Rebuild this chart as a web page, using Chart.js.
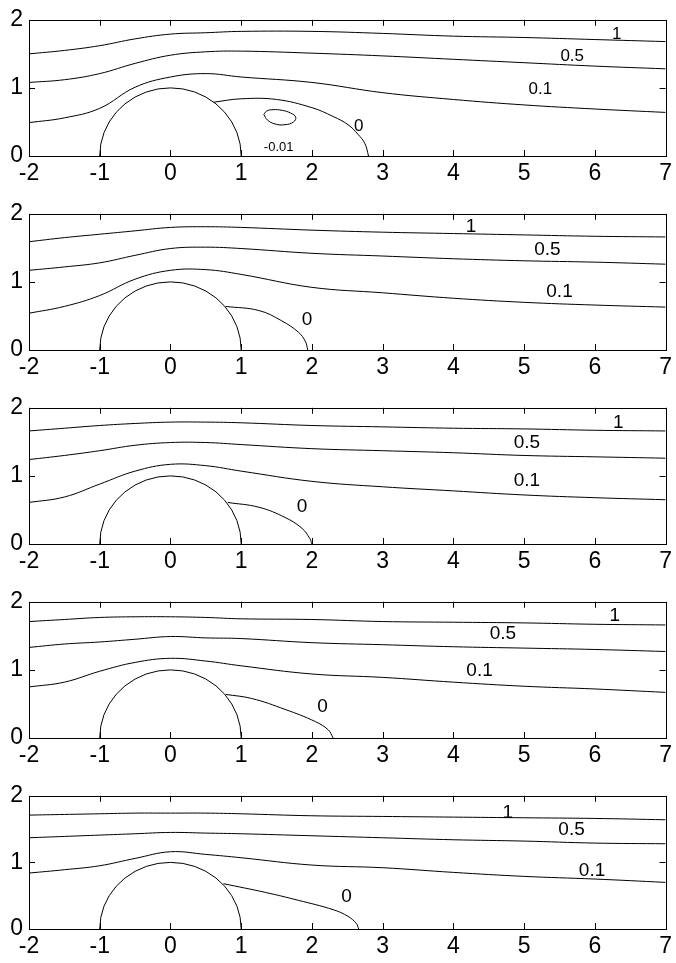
<!DOCTYPE html>
<html><head><meta charset="utf-8">
<script src="https://cdn.jsdelivr.net/npm/chart.js@4"></script>
<style>
html,body{margin:0;padding:0;background:#fff;width:676px;height:963px;overflow:hidden}
.p{position:absolute;left:0;width:676px;height:190px}
</style></head><body>
<div class="p" style="top:0px"><canvas id="c0" width="676" height="190"></canvas></div>
<div class="p" style="top:194px"><canvas id="c1" width="676" height="190"></canvas></div>
<div class="p" style="top:388px"><canvas id="c2" width="676" height="190"></canvas></div>
<div class="p" style="top:582px"><canvas id="c3" width="676" height="190"></canvas></div>
<div class="p" style="top:776px"><canvas id="c4" width="676" height="187"></canvas></div>
<script>
// ---- data ----
const xTicks = [-2,-1,0,1,2,3,4,5,6,7];
const yTicks = [0,1,2];
const streamX = [-2,-1.5,-1,-0.5,0,0.5,1,2,3,4,5,6,7];

const circleX = [-1,-0.985,-0.940,-0.866,-0.766,-0.643,-0.5,-0.342,-0.174,0,0.174,0.342,0.5,0.643,0.766,0.866,0.940,0.985,1];
const circleY = [0,0.174,0.342,0.5,0.643,0.766,0.866,0.940,0.985,1,0.985,0.940,0.866,0.766,0.643,0.5,0.342,0.174,0];

// panel 1
const p1Level1  = [1.50,1.55,1.62,1.72,1.79,1.81,1.83,1.83,1.80,1.76,1.74,1.71,1.68];
const p1Level05 = [1.08,1.12,1.21,1.36,1.48,1.53,1.54,1.51,1.47,1.42,1.37,1.32,1.28];
const p1Level01 = [0.49,0.56,0.70,1.01,1.16,1.21,1.16,1.08,0.93,0.83,0.75,0.69,0.64];
const p1ZeroX = [0.61,1.0,1.5,2.0,2.3,2.51,2.65,2.75,2.80];
const p1ZeroY = [0.79,0.84,0.83,0.71,0.58,0.46,0.32,0.18,0];
const p1NegX = [1.32,1.36,1.45,1.58,1.70,1.77,1.74,1.62,1.48,1.37,1.32];
const p1NegY = [0.61,0.66,0.68,0.67,0.63,0.57,0.50,0.46,0.47,0.53,0.61];
const p1LabelText = ['1','0.5','0.1','0','-0.01'];
const p1LabelX = [6.31,5.68,5.23,2.66,1.53];
const p1LabelY = [1.79,1.46,0.98,0.43,0.13];

// panel 2
const p2Level1  = [1.59,1.65,1.70,1.75,1.80,1.81,1.80,1.76,1.73,1.71,1.69,1.67,1.66];
const p2Level05 = [1.17,1.22,1.28,1.39,1.49,1.51,1.49,1.42,1.38,1.34,1.31,1.29,1.26];
const p2Level01 = [0.54,0.64,0.80,1.04,1.17,1.18,1.11,0.92,0.84,0.76,0.70,0.66,0.63];
const p2ZeroX = [0.78,1.25,1.57,1.81,1.91,1.94];
const p2ZeroY = [0.64,0.58,0.43,0.26,0.12,0];
const p2LabelText = ['1','0.5','0.1','0'];
const p2LabelX = [4.25,5.33,5.50,1.93];
const p2LabelY = [1.81,1.47,0.85,0.45];

// panel 3
const p3Level1  = [1.66,1.70,1.74,1.77,1.79,1.79,1.78,1.74,1.72,1.70,1.69,1.67,1.66];
const p3Level05 = [1.24,1.30,1.37,1.45,1.49,1.49,1.46,1.40,1.37,1.34,1.30,1.28,1.26];
const p3Level01 = [0.61,0.69,0.88,1.07,1.17,1.15,1.07,0.92,0.84,0.78,0.72,0.68,0.65];
const p3ZeroX = [0.81,1.25,1.62,1.86,1.97,2.0];
const p3ZeroY = [0.61,0.54,0.39,0.23,0.08,0];
const p3LabelText = ['1','0.5','0.1','0'];
const p3LabelX = [6.33,5.04,5.04,1.86];
const p3LabelY = [1.78,1.48,0.93,0.54];

// panel 4
const p4Level1  = [1.71,1.74,1.77,1.78,1.78,1.77,1.75,1.74,1.71,1.70,1.69,1.67,1.66];
const p4Level05 = [1.33,1.38,1.41,1.45,1.49,1.47,1.46,1.40,1.37,1.34,1.32,1.30,1.27];
const p4Level01 = [0.75,0.82,0.98,1.11,1.17,1.13,1.06,0.94,0.89,0.82,0.76,0.72,0.67];
const p4ZeroX = [0.78,1.15,1.62,2.05,2.23,2.30];
const p4ZeroY = [0.64,0.58,0.42,0.24,0.12,0];
const p4LabelText = ['1','0.5','0.1','0'];
const p4LabelX = [6.28,4.70,4.37,2.15];
const p4LabelY = [1.79,1.53,0.98,0.46];

// panel 5
const p5Level1  = [1.71,1.72,1.73,1.74,1.74,1.74,1.73,1.70,1.69,1.68,1.67,1.66,1.64];
const p5Level05 = [1.37,1.39,1.41,1.43,1.45,1.44,1.43,1.40,1.37,1.34,1.32,1.29,1.28];
const p5Level01 = [0.84,0.89,0.95,1.06,1.16,1.12,1.07,0.96,0.92,0.85,0.79,0.75,0.70];
const p5ZeroX = [0.75,1.34,1.81,2.3,2.51,2.63,2.66];
const p5ZeroY = [0.68,0.55,0.43,0.29,0.19,0.08,0];
const p5LabelText = ['1','0.5','0.1','0'];
const p5LabelX = [4.77,5.67,5.96,2.49];
const p5LabelY = [1.75,1.49,0.88,0.48];

// ---- build ----
const FONT = "'Liberation Sans', Arial, Helvetica, sans-serif";
const pts = (xs, ys) => xs.map((x, i) => ({x: x, y: ys[i]}));

const panels = [
  {lv:[p1Level1,p1Level05,p1Level01], zx:p1ZeroX, zy:p1ZeroY, nx:p1NegX, ny:p1NegY,
   lt:p1LabelText, lx:p1LabelX, ly:p1LabelY, fs:[17,17,17,17,13]},
  {lv:[p2Level1,p2Level05,p2Level01], zx:p2ZeroX, zy:p2ZeroY,
   lt:p2LabelText, lx:p2LabelX, ly:p2LabelY, fs:[19,19,19,19]},
  {lv:[p3Level1,p3Level05,p3Level01], zx:p3ZeroX, zy:p3ZeroY,
   lt:p3LabelText, lx:p3LabelX, ly:p3LabelY, fs:[19,19,19,19]},
  {lv:[p4Level1,p4Level05,p4Level01], zx:p4ZeroX, zy:p4ZeroY,
   lt:p4LabelText, lx:p4LabelX, ly:p4LabelY, fs:[19,19,19,19]},
  {lv:[p5Level1,p5Level05,p5Level01], zx:p5ZeroX, zy:p5ZeroY,
   lt:p5LabelText, lx:p5LabelX, ly:p5LabelY, fs:[19,19,19,19]}
];

const framePlugin = {
  id: 'frameTicks',
  afterDatasetsDraw(chart, args, opts) {
    const ctx = chart.ctx, a = chart.chartArea;
    const xs = chart.scales.x, ys = chart.scales.y;
    const L = 6;
    ctx.save();
    ctx.strokeStyle = '#000';
    ctx.lineWidth = 1;
    ctx.beginPath();
    xTicks.forEach(v => {
      const px = Math.round(xs.getPixelForValue(v)) + 0.5;
      ctx.moveTo(px, a.bottom); ctx.lineTo(px, a.bottom - L);
      ctx.moveTo(px, a.top); ctx.lineTo(px, a.top + L);
    });
    yTicks.forEach(v => {
      const py = Math.round(ys.getPixelForValue(v)) + 0.5;
      ctx.moveTo(a.left, py); ctx.lineTo(a.left + L, py);
      ctx.moveTo(a.right, py); ctx.lineTo(a.right - L, py);
    });
    ctx.stroke();
    ctx.strokeRect(Math.round(a.left) + 0.5, Math.round(a.top) + 0.5,
                   Math.round(a.right - a.left), Math.round(a.bottom - a.top));
    // contour labels
    const p = opts.panel;
    ctx.fillStyle = '#000';
    ctx.textAlign = 'center';
    ctx.textBaseline = 'middle';
    p.lt.forEach((t, i) => {
      ctx.font = p.fs[i] + 'px ' + FONT;
      ctx.fillText(t, xs.getPixelForValue(p.lx[i]), ys.getPixelForValue(p.ly[i]));
    });
    ctx.restore();
  }
};

panels.forEach((p, idx) => {
  const line = (data, extra) => Object.assign({
    data: data, showLine: true, borderColor: '#000', borderWidth: 1,
    pointRadius: 0, pointHoverRadius: 0, fill: false
  }, extra || {});
  const datasets = [
    line(pts(circleX, circleY), {tension: 0}),
    ...p.lv.map(v => line(pts(streamX, v), {tension: 0.4})),
    line(pts(p.zx, p.zy), {tension: 0.4})
  ];
  if (p.nx) datasets.push(line(pts(p.nx, p.ny), {tension: 0.45}));

  new Chart(document.getElementById('c' + idx), {
    type: 'scatter',
    data: {datasets: datasets},
    options: {
      responsive: false,
      devicePixelRatio: 1,
      animation: false,
      events: [],
      layout: {padding: {top: 15, right: 7, left: 0, bottom: 0}},
      plugins: {legend: {display: false}, tooltip: {enabled: false}, frameTicks: {panel: p}},
      scales: {
        x: {
          type: 'linear', min: -2, max: 7,
          afterBuildTicks: s => { s.ticks = xTicks.map(v => ({value: v})); },
          afterFit: s => { s.height = 34; },
          grid: {display: false, drawTicks: false},
          border: {display: false},
          ticks: {color: '#000', padding: 4, font: {size: 23, family: FONT}, maxRotation: 0,
                  autoSkip: false, callback: v => String(v)}
        },
        y: {
          type: 'linear', min: 0, max: 2,
          afterBuildTicks: s => { s.ticks = yTicks.map(v => ({value: v})); },
          afterFit: s => { s.width = 29; },
          grid: {display: false, drawTicks: false},
          border: {display: false},
          ticks: {color: '#000', padding: 6, font: {size: 23, family: FONT}, callback: v => String(v)}
        }
      }
    },
    plugins: [framePlugin]
  });
});
</script>
</body></html>
